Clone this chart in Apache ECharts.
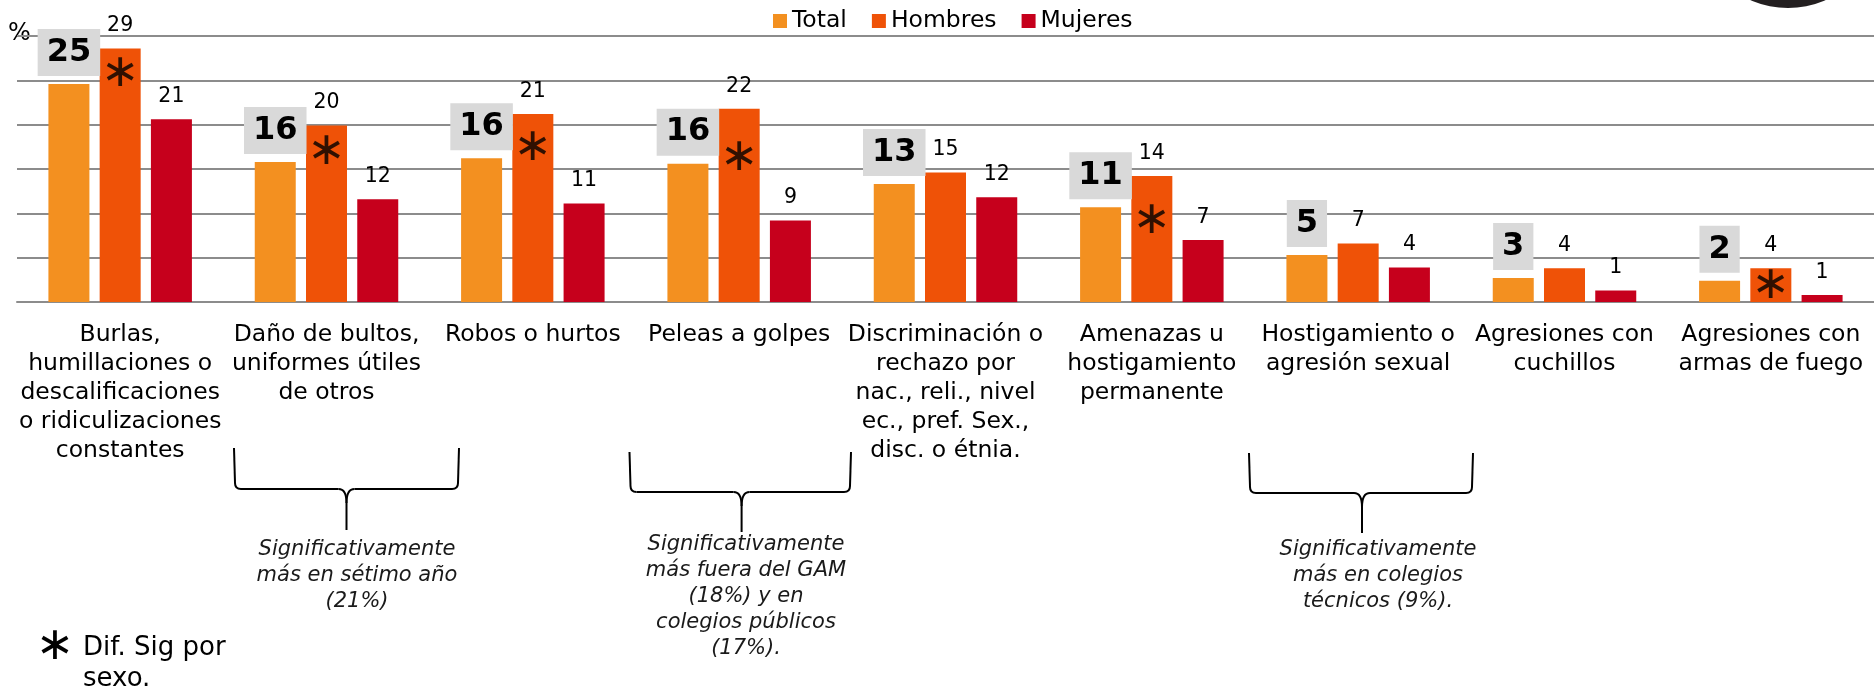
<!DOCTYPE html>
<html>
<head>
<meta charset="utf-8">
<script src="https://cdn.jsdelivr.net/npm/echarts@6/dist/echarts.min.js"></script>
<style>
  html, body { margin: 0; padding: 0; background: #fff; }
  #chart { width: 1874px; height: 689px; }
</style>
</head>
<body>
<div id="chart"></div>
<script>
// categorías (con saltos de línea como en el original)
const categorias = [
  'Burlas,\nhumillaciones o\ndescalificaciones\no ridiculizaciones\nconstantes',
  'Daño de bultos,\nuniformes útiles\nde otros',
  'Robos o hurtos',
  'Peleas a golpes',
  'Discriminación o\nrechazo por\nnac., reli., nivel\nec., pref. Sex.,\ndisc. o étnia.',
  'Amenazas u\nhostigamiento\npermanente',
  'Hostigamiento o\nagresión sexual',
  'Agresiones con\ncuchillos',
  'Agresiones con\narmas de fuego'
];
const total = [24.6, 15.8, 16.2, 15.6, 13.3, 10.7, 5.3, 2.7, 2.4];
const hombres = [28.6, 19.9, 21.2, 21.8, 14.6, 14.2, 6.6, 3.8, 3.8];
const mujeres = [20.6, 11.6, 11.1, 9.2, 11.8, 7.0, 3.9, 1.3, 0.8];
// dif. sig. por sexo: altura del asterisco sobre la barra de hombres
const asterisco = [25.7, 16.95, 17.4, 16.2, null, 9.1, null, null, 1.8];

const fuente = 'DejaVu Sans';
const trazo = { stroke: '#000', lineWidth: 2, fill: null };

function linea(x1, y1, x2, y2) {
  return { type: 'line', shape: { x1: x1, y1: y1, x2: x2, y2: y2 }, style: trazo };
}
function curva(x1, y1, cx, cy, x2, y2) {
  return { type: 'bezierCurve', shape: { x1: x1, y1: y1, cpx1: cx, cpy1: cy, x2: x2, y2: y2 }, style: trazo };
}

// llave horizontal bajo las etiquetas
function llave(x0, x1, top, mid, tip, c) {
  const r = 6;
  return {
    type: 'group',
    children: [
      linea(x0, top, x0 + 1, mid - r),
      curva(x0 + 1, mid - r, x0 + 1, mid, x0 + 1 + r, mid),
      linea(x0 + 1 + r, mid, c - 8, mid),
      curva(c - 8, mid, c, mid, c, mid + 14),
      linea(c, mid + 14, c, tip),
      curva(c + 8, mid, c, mid, c, mid + 14),
      linea(c + 8, mid, x1 - 1 - r, mid),
      curva(x1 - 1 - r, mid, x1 - 1, mid, x1 - 1, mid - r),
      linea(x1 - 1, mid - r, x1, top)
    ]
  };
}

function nota(x, y, texto) {
  return {
    type: 'text', x: x, y: y,
    style: {
      text: texto, font: 'italic 21px "' + fuente + '"', lineHeight: 26,
      fill: '#1a1a1a', textAlign: 'center', textVerticalAlign: 'top'
    }
  };
}

const redondeo = p => Math.round(p.value);

const chart = echarts.init(document.getElementById('chart'));
chart.setOption({
  animation: false,
  textStyle: { fontFamily: fuente },
  color: ['#f39020', '#ef5207', '#c6001c'],
  legend: {
    data: ['Total', 'Hombres', 'Mujeres'],
    left: 773,
    top: 9,
    padding: 0,
    icon: 'rect',
    itemWidth: 14,
    itemHeight: 14,
    itemGap: 25,
    textStyle: { fontSize: 23.5, color: '#000' }
  },
  grid: { left: 17, top: 36, width: 1862, height: 266 },
  xAxis: {
    type: 'category',
    data: categorias,
    axisTick: { show: false },
    axisLine: { lineStyle: { color: '#8c8c8c', width: 2 } },
    axisLabel: { interval: 0, fontSize: 23.5, lineHeight: 29, color: '#000', margin: 18 }
  },
  yAxis: {
    type: 'value',
    min: 0,
    max: 30,
    interval: 5,
    axisLabel: { show: false },
    axisLine: { show: false },
    axisTick: { show: false },
    splitLine: { lineStyle: { color: '#8c8c8c', width: 2 } }
  },
  series: [
    {
      name: 'Total', type: 'bar', data: total, barWidth: 41, barGap: '25%',
      label: {
        show: true, position: 'top', distance: 8, formatter: redondeo,
        fontSize: 32, fontWeight: 'bold', color: '#000', lineHeight: 33,
        backgroundColor: '#d9d9d9', padding: [7, 9]
      }
    },
    {
      name: 'Hombres', type: 'bar', data: hombres, barWidth: 41, barGap: '25%',
      label: { show: true, position: 'top', distance: 12, formatter: redondeo, fontSize: 20.5, color: '#000' }
    },
    {
      name: 'Mujeres', type: 'bar', data: mujeres, barWidth: 41, barGap: '25%',
      label: { show: true, position: 'top', distance: 12, formatter: redondeo, fontSize: 20.5, color: '#000' }
    },
    {
      name: 'sig', type: 'scatter', z: 5,
      data: asterisco.map(v => (v == null ? '-' : v)),
      symbolSize: 1,
      itemStyle: { color: 'rgba(0,0,0,0)' },
      label: { show: true, position: 'inside', formatter: '\u2217', fontSize: 46, color: '#000' }
    }
  ],
  graphic: [
    { type: 'circle', shape: { cx: 1788, cy: -85, r: 93 }, style: { fill: '#231f20' } },
    { type: 'text', x: 8, y: 22, style: { text: '%', font: '24px "' + fuente + '"', fill: '#000' } },
    llave(234, 459, 448, 489, 530, 346.5),
    llave(629.5, 851, 452, 492, 532, 741.6),
    llave(1249, 1473, 453, 493, 533, 1362),
    nota(357, 537, 'Significativamente\nmás en sétimo año\n(21%)'),
    nota(746, 532, 'Significativamente\nmás fuera del GAM\n(18%) y en\ncolegios públicos\n(17%).'),
    nota(1378, 537, 'Significativamente\nmás en colegios\ntécnicos (9%).'),
    { type: 'text', x: 55, y: 647, style: { text: '\u2217', font: '46px "' + fuente + '"', fill: '#000', textAlign: 'center', textVerticalAlign: 'middle' } },
    { type: 'text', x: 83, y: 633, style: { text: 'Dif. Sig por\nsexo.', font: '26px "' + fuente + '"', lineHeight: 31, fill: '#000' } }
  ]
});
</script>
</body>
</html>
